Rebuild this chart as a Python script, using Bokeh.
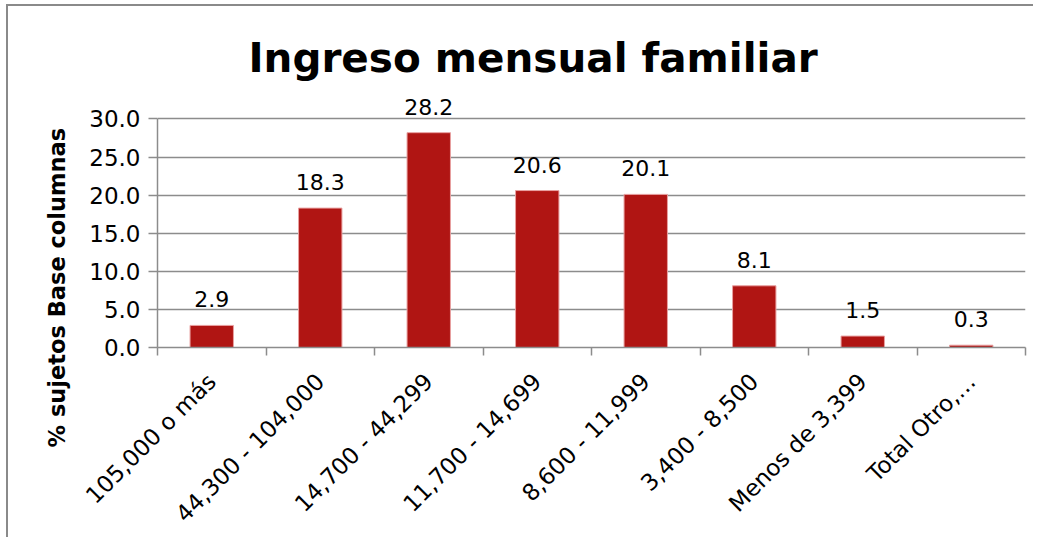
import numpy as np
from bokeh.plotting import figure
from bokeh.models import Range1d, FixedTicker, ColumnDataSource, LabelSet, Title
from bokeh.core.properties import value
from bokeh.embed import file_html
from bokeh.resources import INLINE

categories = ["105,000 o más", "44,300 - 104,000", "14,700 - 44,299", "11,700 - 14,699",
              "8,600 - 11,999", "3,400 - 8,500", "Menos de 3,399", "Total Otro,…"]
values = [2.9, 18.3, 28.2, 20.6, 20.1, 8.1, 1.5, 0.3]
y_ticks = [0, 5, 10, 15, 20, 25, 30]

FONT = "DejaVu Sans"
xpos = [i + 0.5 for i in range(len(categories))]
src = ColumnDataSource(dict(x=xpos, top=values, lab=[f"{v:.1f}" for v in values]))

p = figure(width=1027, height=533, output_backend="svg", toolbar_location=None,
           x_range=Range1d(0, len(categories)), y_range=Range1d(0, 34),
           min_border_left=149, min_border_right=10, min_border_top=82, min_border_bottom=186)
p.styles = {"border-left": "2px solid #8a8a8a", "border-top": "2px solid #8a8a8a",
            "margin-left": "6px", "margin-top": "4px"}

p.title.text = "Ingreso mensual familiar"
p.title.align = "left"
p.title.offset = 91
p.title.text_font = FONT
p.title.text_font_size = "40.5px"
p.title.text_font_style = "bold"
p.title.text_color = "black"
p.title.standoff = 13

p.vbar(x="x", top="top", width=0.4, source=src, fill_color="#B01513", line_color="#E8A0A0", line_width=1)

labels = LabelSet(x="x", y="top", text="lab", source=src, text_align="center",
                  text_baseline="alphabetic", y_offset=18, text_font=value(FONT),
                  text_font_size=value("22px"), text_color="black")
p.add_layout(labels)

p.outline_line_color = None
p.xgrid.grid_line_color = None
p.ygrid.grid_line_color = "#8c8c8c"
p.ygrid.grid_line_width = 1.5
p.ygrid.ticker = FixedTicker(ticks=y_ticks)

xt = FixedTicker(ticks=xpos, minor_ticks=list(range(len(categories) + 1)))
p.xaxis.ticker = xt
p.xaxis.major_label_overrides = {x: c for x, c in zip(xpos, categories)}
p.xaxis.major_tick_line_color = None
p.xaxis.minor_tick_line_color = "#8c8c8c"
p.xaxis.minor_tick_line_width = 1.5
p.xaxis.minor_tick_out = 8
p.xaxis.minor_tick_in = 0
p.xaxis.axis_line_color = "#8c8c8c"
p.xaxis.axis_line_width = 1.5
p.xaxis.major_label_orientation = np.pi / 4
p.xaxis.major_label_text_font = FONT
p.xaxis.major_label_text_font_size = "23px"
p.xaxis.major_label_text_color = "black"
p.xaxis.major_label_standoff = 22

yax = p.yaxis[0]
yax.bounds = (0, 30)
yax.ticker = FixedTicker(ticks=y_ticks)
yax.major_label_overrides = {t: f"{t:.1f}" for t in y_ticks}
yax.major_tick_line_color = "#8c8c8c"
yax.major_tick_line_width = 1.5
yax.major_tick_out = 9
yax.major_tick_in = 0
yax.minor_tick_line_color = None
yax.axis_line_color = "#8c8c8c"
yax.axis_line_width = 1.5
yax.major_label_text_font = FONT
yax.major_label_text_font_size = "23px"
yax.major_label_text_color = "black"
yax.major_label_standoff = 8

ytitle = Title(text="% sujetos Base columnas", align="left", offset=-100, standoff=34,
               text_font=FONT, text_font_size="22.5px", text_font_style="bold",
               text_color="black")
p.add_layout(ytitle, "left")

open("out.html", "w").write(file_html(p, INLINE))
